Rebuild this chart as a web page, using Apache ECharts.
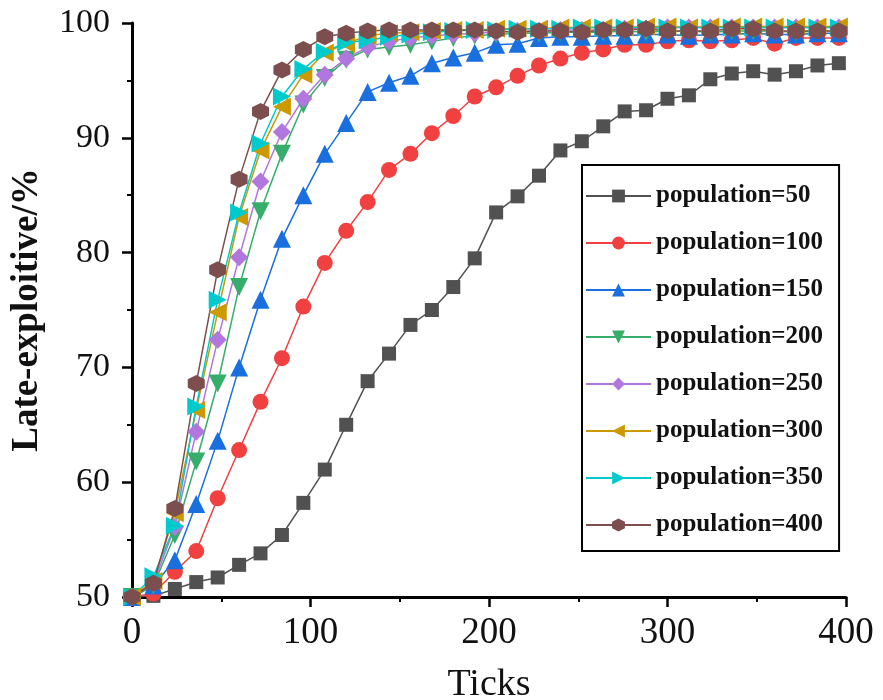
<!DOCTYPE html>
<html>
<head>
<meta charset="utf-8">
<script src="https://cdn.jsdelivr.net/npm/echarts@6/dist/echarts.min.js"></script>
<style>html,body{margin:0;padding:0;background:#fff;}#c{width:883px;height:700px;}</style>
</head>
<body>
<div id="c"></div>
<script>
const ticks = [0,12,24,36,48,60,72,84,96,108,120,132,144,156,168,180,192,204,216,228,240,252,264,276,288,300,312,324,336,348,360,372,384,396];
const seriesNames = ['population=50','population=100','population=150','population=200','population=250','population=300','population=350','population=400'];
const pop50  = [50.0,50.1,50.7,51.3,51.7,52.8,53.8,55.4,58.2,61.1,65.0,68.8,71.2,73.7,75.0,77.0,79.5,83.5,84.9,86.7,88.9,89.7,91.0,92.3,92.4,93.4,93.7,95.1,95.6,95.8,95.5,95.8,96.3,96.5];
const pop100 = [50.0,50.3,52.2,54.0,58.6,62.8,67.0,70.8,75.3,79.1,81.9,84.4,87.2,88.6,90.4,91.9,93.6,94.4,95.4,96.3,96.9,97.4,97.7,98.1,98.1,98.4,98.5,98.4,98.5,98.7,98.2,98.7,98.7,98.7];
const pop150 = [50.0,51.0,53.2,58.1,63.6,70.0,75.9,81.2,85.0,88.6,91.3,94.0,94.8,95.4,96.5,97.0,97.4,98.1,98.2,98.7,98.8,98.8,98.9,98.9,99.0,99.0,98.9,99.0,99.0,99.1,99.0,99.0,99.1,99.1];
const pop200 = [50.0,51.0,55.4,61.8,68.6,77.0,83.6,88.6,92.9,95.2,96.8,97.7,97.9,98.1,98.4,98.7,98.9,99.0,99.1,99.1,99.2,99.2,99.2,99.3,99.2,99.3,99.3,99.2,99.3,99.3,99.3,99.2,99.3,99.3];
const pop250 = [50.0,51.2,56.1,64.4,72.4,79.6,86.2,90.5,93.4,95.5,96.9,97.9,98.4,98.7,98.9,99.0,99.1,99.2,99.3,99.3,99.4,99.4,99.4,99.5,99.5,99.6,99.6,99.6,99.6,99.6,99.6,99.6,99.6,99.6];
const pop300 = [50.0,51.4,57.3,66.3,74.8,83.1,88.9,92.7,95.5,97.4,98.2,98.9,99.1,99.2,99.3,99.4,99.4,99.5,99.5,99.5,99.6,99.6,99.6,99.6,99.7,99.7,99.6,99.7,99.7,99.7,99.7,99.7,99.7,99.7];
const pop350 = [50.0,51.8,56.2,66.6,75.9,83.5,89.5,93.6,96.0,97.5,98.3,98.5,98.8,99.0,99.2,99.3,99.4,99.4,99.5,99.5,99.5,99.6,99.6,99.6,99.6,99.6,99.6,99.6,99.6,99.6,99.6,99.6,99.6,99.6];
const pop400 = [50.0,51.2,57.7,68.6,78.5,86.4,92.3,95.9,97.7,98.8,99.1,99.3,99.4,99.4,99.4,99.4,99.4,99.3,99.2,99.3,99.3,99.2,99.4,99.4,99.5,99.3,99.3,99.3,99.5,99.5,99.3,99.3,99.3,99.3];

const allValues = [pop50,pop100,pop150,pop200,pop250,pop300,pop350,pop400];
const colors = ['#515151','#F14040','#1A6FDF','#37AD6B','#B177DE','#CC9900','#00CBCC','#7D4E4E'];
const hexagon = 'path://M0,-1 L0.866,-0.5 L0.866,0.5 L0,1 L-0.866,0.5 L-0.866,-0.5 Z';
const symbols = ['rect','circle','triangle','triangle','diamond','triangle','triangle',hexagon];
const rotations = [0,0,0,180,0,90,-90,0];
const sizes = [14,16,18,18,18,18,18,17];

const series = allValues.map((vals, i) => ({
  name: seriesNames[i],
  type: 'line',
  data: ticks.map((t, j) => [t, vals[j]]),
  symbol: symbols[i],
  symbolRotate: rotations[i],
  symbolSize: sizes[i],
  showAllSymbol: true,
  clip: false,
  color: colors[i],
  lineStyle: { width: 1.5, color: colors[i] },
  itemStyle: { color: colors[i], borderWidth: 0 },
  emphasis: { disabled: true },
  animation: false
}));

const chart = echarts.init(document.getElementById('c'), null, { renderer: 'canvas' });
chart.setOption({
  backgroundColor: '#ffffff',
  animation: false,
  grid: { left: 132, right: 37, top: 23, bottom: 103, containLabel: false, outerBoundsMode: 'none' },
  xAxis: {
    type: 'value', min: 0, max: 400, interval: 100,
    name: 'Ticks', nameLocation: 'middle', nameGap: 69,
    nameTextStyle: { fontFamily: 'Liberation Serif', fontSize: 38, color: '#111' },
    axisLine: { show: true, onZero: false, lineStyle: { color: '#000', width: 3 } },
    axisTick: { show: true, inside: false, length: 10, lineStyle: { color: '#000', width: 2.5 } },
    minorTick: { show: true, splitNumber: 2, length: 5, lineStyle: { color: '#000', width: 2 } },
    axisLabel: { fontFamily: 'Liberation Serif', fontSize: 37, color: '#111', margin: 18 },
    splitLine: { show: false }
  },
  yAxis: {
    type: 'value', min: 50, max: 100, interval: 10,
    name: 'Late-exploitive/%', nameLocation: 'middle', nameGap: 86,
    nameTextStyle: { fontFamily: 'Liberation Serif', fontWeight: 'bold', fontSize: 37, color: '#111' },
    axisLine: { show: true, onZero: false, lineStyle: { color: '#000', width: 3 } },
    axisTick: { show: true, inside: false, length: 10, lineStyle: { color: '#000', width: 2.5 } },
    minorTick: { show: true, splitNumber: 2, length: 5, lineStyle: { color: '#000', width: 2 } },
    axisLabel: { fontFamily: 'Liberation Serif', fontSize: 34, color: '#111', margin: 22 },
    splitLine: { show: false }
  },
  legend: {
    orient: 'vertical',
    left: 582, top: 165,
    padding: [18, 16, 13, 3],
    itemWidth: 65, itemHeight: 16,
    itemGap: 21,
    backgroundColor: '#fff',
    borderColor: '#000', borderWidth: 2,
    textStyle: { fontFamily: 'Liberation Serif', fontWeight: 'bold', fontSize: 25, lineHeight: 26, color: '#111' },
    data: seriesNames,
    selectedMode: false
  },
  series: series
});
</script>
</body>
</html>
